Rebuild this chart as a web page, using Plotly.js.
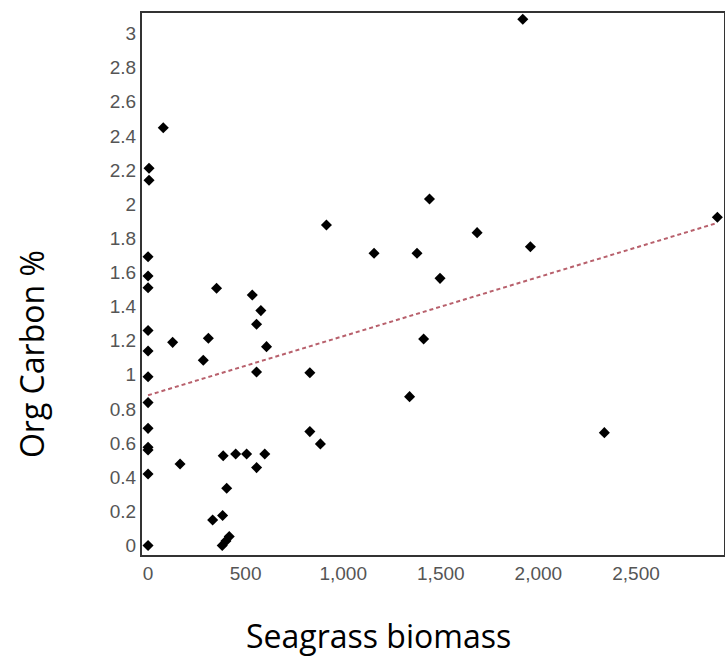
<!DOCTYPE html>
<html>
<head>
<meta charset="utf-8">
<script src="https://cdn.plot.ly/plotly-3.0.1.min.js"></script>
<style>html,body{margin:0;padding:0;background:#fff;}#chart{width:725px;height:658px;}</style>
</head>
<body>
<div id="chart"></div>
<script>
const biomass = [0,0,0,0,0,0,0,0,0,0,0,0,5,5,
  78,126,164,283,309,331,351,380,382,385,399,403,416,449,505,534,556,556,556,578,598,607,
  829,829,883,914,1158,1340,1378,1412,1442,1496,1686,1920,1959,2338,2917];
const orgCarbon = [0,0.419,0.56,0.575,0.686,0.837,0.989,1.139,1.259,1.51,1.579,1.692,2.14,2.21,
  2.448,1.19,0.477,1.085,1.214,0.149,1.507,0.0,0.175,0.526,0.026,0.335,0.052,0.536,0.536,1.467,1.296,1.016,0.456,1.376,0.536,1.165,
  1.012,0.667,0.595,1.878,1.712,0.872,1.712,1.21,2.03,1.565,1.833,3.083,1.75,0.661,1.923];
const trendX = [0, 2917];
const trendY = [0.88, 1.89];
const yTicks = [0,0.2,0.4,0.6,0.8,1,1.2,1.4,1.6,1.8,2,2.2,2.4,2.6,2.8,3];
const xTicks = [0,500,1000,1500,2000,2500];
const xTitle = 'Seagrass biomass';
const yTitle = 'Org Carbon %';

const traces = [
  {x: trendX, y: trendY, mode: 'lines', type: 'scatter', hoverinfo: 'skip',
   line: {color: '#b8606c', width: 2, dash: '4px,3px'}},
  {x: biomass, y: orgCarbon, mode: 'markers', type: 'scatter', cliponaxis: false,
   marker: {symbol: 'diamond', size: 8.5, color: '#000'}}
];
const tickFont = {family: 'Liberation Sans, Arial, sans-serif', size: 19, color: '#555'};
const titleFont = {family: 'Open Sans, sans-serif', size: 32, color: '#000'};
const layout = {
  width: 725, height: 658,
  margin: {l: 142, r: 1, t: 13, b: 103},
  paper_bgcolor: '#fff', plot_bgcolor: '#fff',
  showlegend: false,
  xaxis: {range: [-31, 2951], tickvals: xTicks, tickformat: ',', showgrid: false, zeroline: false,
    showline: true, mirror: true, linecolor: '#333', linewidth: 2, ticks: '', tickfont: tickFont,
    automargin: false},
  yaxis: {range: [-0.056, 3.12], tickvals: yTicks, showgrid: false, zeroline: false,
    showline: true, mirror: true, linecolor: '#333', linewidth: 2, ticks: '', tickfont: tickFont,
    automargin: false},
  annotations: [
    {text: xTitle, xref: 'paper', yref: 'paper', x: 0.4072, y: -0.1494, xanchor: 'center', yanchor: 'middle',
     showarrow: false, font: titleFont},
    {text: yTitle, xref: 'paper', yref: 'paper', x: -0.1907, y: 0.3708, xanchor: 'center', yanchor: 'middle',
     textangle: -90, showarrow: false, font: titleFont}
  ]
};
Plotly.newPlot('chart', traces, layout, {displayModeBar: false, staticPlot: true});
</script>
</body>
</html>
